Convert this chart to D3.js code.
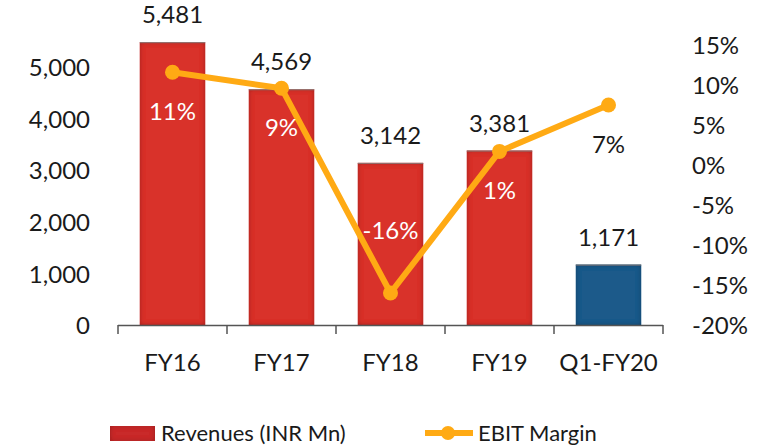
<!DOCTYPE html>
<html>
<head>
<meta charset="utf-8">
<script src="https://cdn.jsdelivr.net/npm/d3@7"></script>
<style>
  body { margin: 0; background: #fff; }
  svg { display: block; }
  text { font-family: Lato, "Open Sans", sans-serif; fill: #1a1a1a; }
</style>
</head>
<body>
<svg id="chart" width="760" height="447"></svg>
<script>
// data
var periods = ["FY16", "FY17", "FY18", "FY19", "Q1-FY20"];
var revenues = [5481, 4569, 3142, 3381, 1171];
var ebitMargin = [11.6, 9.6, -16.0, 1.7, 7.5];
var revTicks = [0, 1000, 2000, 3000, 4000, 5000];
var marginTicks = [-20, -15, -10, -5, 0, 5, 10, 15];

var svg = d3.select("#chart");

var x = d3.scaleBand().domain(periods).range([118, 663]).paddingInner(0.4).paddingOuter(0.2);
var yLeft = d3.scaleLinear().domain([0, 6000]).range([325, 15.4]);
var yRight = d3.scaleLinear().domain([-20, 20]).range([325, 5]);

// inner shadow for the bars
var defs = svg.append("defs");
var f = defs.append("filter").attr("id", "inset")
    .attr("x", "-10%").attr("y", "-10%").attr("width", "120%").attr("height", "120%");
f.append("feFlood").attr("flood-color", "#000").attr("flood-opacity", 0.55);
f.append("feComposite").attr("in2", "SourceAlpha").attr("operator", "out");
f.append("feGaussianBlur").attr("stdDeviation", 2.5);
f.append("feComposite").attr("in2", "SourceAlpha").attr("operator", "in").attr("result", "shadow");
var m = f.append("feMerge");
m.append("feMergeNode").attr("in", "SourceGraphic");
m.append("feMergeNode").attr("in", "shadow");

function barColor(i) {
    return periods[i] == "Q1-FY20" ? "#1f5a8a" : "#d9302b";
}

// bars
svg.append("g").selectAll("rect")
    .data(revenues)
    .enter().append("rect")
    .attr("x", function(d, i) { return x(periods[i]); })
    .attr("y", function(d) { return yLeft(d); })
    .attr("width", x.bandwidth())
    .attr("height", function(d) { return yLeft(0) - yLeft(d); })
    .attr("fill", function(d, i) { return barColor(i); })
    .attr("filter", "url(#inset)");

// thin grey top edge
svg.append("g").selectAll("line")
    .data(revenues)
    .enter().append("line")
    .attr("x1", function(d, i) { return x(periods[i]); })
    .attr("x2", function(d, i) { return x(periods[i]) + x.bandwidth(); })
    .attr("y1", function(d) { return yLeft(d) + 0.5; })
    .attr("y2", function(d) { return yLeft(d) + 0.5; })
    .attr("stroke", "#8a7a78").attr("stroke-width", 1);

// x axis
svg.append("line").attr("x1", 118).attr("x2", 663).attr("y1", 325.5).attr("y2", 325.5)
    .attr("stroke", "#555").attr("stroke-width", 1.5);
var edges = periods.map(function(p) { return x(p) - x.step() * x.paddingInner() / 2; });
edges.push(663);
svg.append("g").selectAll("line")
    .data(edges)
    .enter().append("line")
    .attr("x1", function(d) { return d; }).attr("x2", function(d) { return d; })
    .attr("y1", 325).attr("y2", 334)
    .attr("stroke", "#555").attr("stroke-width", 1.5);
svg.append("g").selectAll("text")
    .data(periods)
    .enter().append("text")
    .attr("x", function(d) { return x(d) + x.bandwidth() / 2; })
    .attr("y", 371)
    .attr("text-anchor", "middle")
    .attr("font-size", 24)
    .text(function(d) { return d; });

// left axis
var left = svg.append("g")
    .attr("transform", "translate(90,0)")
    .call(d3.axisLeft(yLeft).tickValues(revTicks).tickSize(0).tickPadding(0).tickFormat(d3.format(",")));
left.select(".domain").remove();
left.selectAll("text").attr("font-size", 24).attr("dy", "0.36em").attr("fill", "#1a1a1a")
    .attr("font-family", "Lato, 'Open Sans', sans-serif");

// right axis
var right = svg.append("g")
    .attr("transform", "translate(692,0)")
    .call(d3.axisRight(yRight).tickValues(marginTicks).tickSize(0).tickPadding(0)
        .tickFormat(function(d) { return d + "%"; }));
right.select(".domain").remove();
right.selectAll("text").attr("font-size", 24).attr("dy", "0.36em").attr("fill", "#1a1a1a")
    .attr("font-family", "Lato, 'Open Sans', sans-serif");

// bar value labels
svg.append("g").selectAll("text")
    .data(revenues)
    .enter().append("text")
    .attr("x", function(d, i) { return x(periods[i]) + x.bandwidth() / 2; })
    .attr("y", function(d) { return yLeft(d) - 19; })
    .attr("text-anchor", "middle")
    .attr("font-size", 24)
    .text(function(d) { return d3.format(",")(d); });

// EBIT margin line
var cx = function(d, i) { return x(periods[i]) + x.bandwidth() / 2; };
var line = d3.line().x(cx).y(function(d) { return yRight(d); });
svg.append("path")
    .datum(ebitMargin)
    .attr("d", line)
    .attr("fill", "none")
    .attr("stroke", "#ffaa14")
    .attr("stroke-width", 6)
    .attr("stroke-linejoin", "round");
svg.append("g").selectAll("circle")
    .data(ebitMargin)
    .enter().append("circle")
    .attr("cx", cx)
    .attr("cy", function(d) { return yRight(d); })
    .attr("r", 7.5)
    .attr("fill", "#ffaa14");

// margin labels: below the point, except the negative one which sits above
function labelY(d) { return yRight(d) + (d < 0 ? -54 : 48); }
svg.append("g").selectAll("text")
    .data(ebitMargin)
    .enter().append("text")
    .attr("x", cx)
    .attr("y", labelY)
    .attr("text-anchor", "middle")
    .attr("font-size", 24)
    .style("fill", function(d, i) {
        return labelY(d) - 16 > yLeft(revenues[i]) ? "#ffffff" : "#1a1a1a";
    })
    .text(function(d) { return Math.trunc(d) + "%"; });

// legend
var lg = svg.append("g");
lg.append("rect").attr("x", 110).attr("y", 426).attr("width", 45).attr("height", 15)
    .attr("fill", "#c9292a").attr("filter", "url(#inset)");
lg.append("text").attr("x", 161).attr("y", 441).attr("font-size", 22).text("Revenues (INR Mn)");
lg.append("line").attr("x1", 425).attr("x2", 473).attr("y1", 433).attr("y2", 433)
    .attr("stroke", "#ffaa14").attr("stroke-width", 6);
lg.append("circle").attr("cx", 448).attr("cy", 433).attr("r", 7).attr("fill", "#ffaa14");
lg.append("text").attr("x", 478).attr("y", 441).attr("font-size", 22).text("EBIT Margin");
</script>
</body>
</html>
